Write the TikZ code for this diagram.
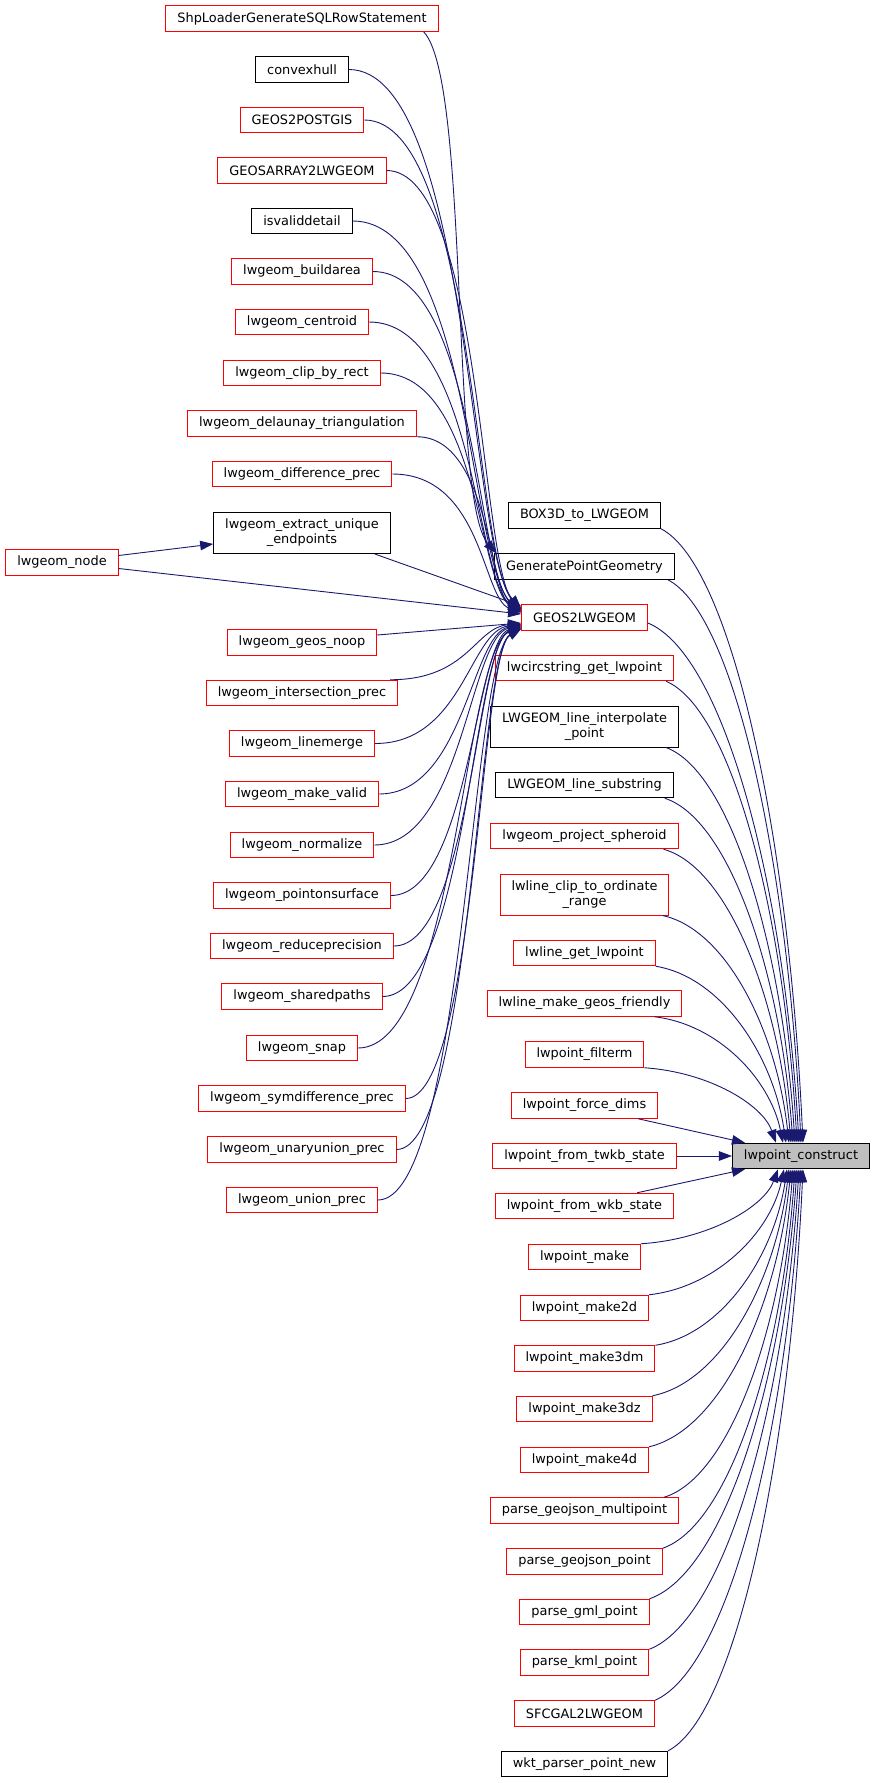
\documentclass[tikz,border=0pt]{standalone}
\usepackage{fontspec}
\setmainfont{DejaVu Sans}
\usetikzlibrary{arrows.meta,calc}
\definecolor{edgecol}{HTML}{191970}
\definecolor{boxgray}{HTML}{BFBFBF}
\tikzset{
 nbox/.style={draw, line width=1pt, fill=white, font=\fontsize{12.9}{15}\selectfont, inner xsep=11.5pt, inner ysep=0pt, minimum height=25.5pt, align=center},
 rbox/.style={nbox, draw=red},
 kbox/.style={nbox, draw=black},
 tall/.style={minimum height=41pt},
 calledge/.style={draw=edgecol, line width=0.9pt, -{Triangle[length=13pt,width=9.5pt]}},
}
\newcommand\cedge[6]{\draw[calledge] let \p1=(#1), \p2=(#2) in (\p1) .. controls ({\x1+#3*(\x2-\x1)},{\y1+#4*(\y2-\y1)}) and ({\x2-#5*(\x2-\x1)},{\y2-#6*(\y2-\y1)}) .. (\p2);}
\newcommand\ledgeU[2]{\cedge{#1}{#2}{0.7}{0}{0.3}{0.1}}
\newcommand\ledgeD[2]{\cedge{#1}{#2}{0.6}{0}{0.35}{0.05}}
\newcommand\redge[2]{\cedge{#1}{#2}{0.5}{0.06}{0.1}{0.5}}
\begin{document}
\begin{tikzpicture}[x=1pt,y=1pt]
\useasboundingbox (0,0) rectangle (875,-1783);
% left column
\node[rbox] (shp) at (302,-18.5) {ShpLoaderGenerateSQLRowStatement};
\node[kbox] (cvx) at (302,-69.5) {convexhull};
\node[rbox] (g2p) at (302,-120) {GEOS2POSTGIS};
\node[rbox] (gar) at (302,-170.5) {GEOSARRAY2LWGEOM};
\node[kbox] (isv) at (302,-221) {isvaliddetail};
\node[rbox] (bld) at (302,-271.5) {lwgeom\_buildarea};
\node[rbox] (cen) at (302,-322) {lwgeom\_centroid};
\node[rbox] (clp) at (302,-373) {lwgeom\_clip\_by\_rect};
\node[rbox] (del) at (302,-423.5) {lwgeom\_delaunay\_triangulation};
\node[rbox] (dif) at (302,-474) {lwgeom\_difference\_prec};
\node[kbox,tall] (ext) at (302,-533) {lwgeom\_extract\_unique\\\_endpoints};
\node[rbox] (nod) at (62,-562.5) {lwgeom\_node};
\node[rbox] (noop) at (302,-642.5) {lwgeom\_geos\_noop};
\node[rbox] (int) at (302,-693) {lwgeom\_intersection\_prec};
\node[rbox] (lm) at (302,-743.5) {lwgeom\_linemerge};
\node[rbox] (mv) at (302,-794) {lwgeom\_make\_valid};
\node[rbox] (nrm) at (302,-845) {lwgeom\_normalize};
\node[rbox] (pos) at (302,-895.5) {lwgeom\_pointonsurface};
\node[rbox] (rp) at (302,-946) {lwgeom\_reduceprecision};
\node[rbox] (sp) at (302,-996.5) {lwgeom\_sharedpaths};
\node[rbox] (snp) at (302,-1048) {lwgeom\_snap};
\node[rbox] (sym) at (302,-1098.5) {lwgeom\_symdifference\_prec};
\node[rbox] (uu) at (302,-1149.5) {lwgeom\_unaryunion\_prec};
\node[rbox] (un) at (302,-1200) {lwgeom\_union\_prec};
% middle column
\node[kbox] (b3d) at (584.5,-515.5) {BOX3D\_to\_LWGEOM};
\node[kbox] (gpg) at (584.5,-566.5) {GeneratePointGeometry};
\node[rbox] (g2l) at (584.5,-617.5) {GEOS2LWGEOM};
\node[rbox] (lcg) at (584.5,-668) {lwcircstring\_get\_lwpoint};
\node[kbox,tall] (lip) at (584.5,-726.5) {LWGEOM\_line\_interpolate\\\_point};
\node[kbox] (lls) at (584.5,-785) {LWGEOM\_line\_substring};
\node[rbox] (lps) at (584.5,-836) {lwgeom\_project\_spheroid};
\node[rbox,tall] (lco) at (584.5,-894.5) {lwline\_clip\_to\_ordinate\\\_range};
\node[rbox] (lgl) at (584.5,-953) {lwline\_get\_lwpoint};
\node[rbox] (lmg) at (584.5,-1003.5) {lwline\_make\_geos\_friendly};
\node[rbox] (pfm) at (584.5,-1054.5) {lwpoint\_filterm};
\node[rbox] (pfd) at (584.5,-1105.5) {lwpoint\_force\_dims};
\node[rbox] (ptw) at (584.5,-1156) {lwpoint\_from\_twkb\_state};
\node[rbox] (pwk) at (584.5,-1206) {lwpoint\_from\_wkb\_state};
\node[rbox] (pm) at (584.5,-1257) {lwpoint\_make};
\node[rbox] (pm2) at (584.5,-1308) {lwpoint\_make2d};
\node[rbox] (pm3m) at (584.5,-1358.5) {lwpoint\_make3dm};
\node[rbox] (pm3z) at (584.5,-1409) {lwpoint\_make3dz};
\node[rbox] (pm4) at (584.5,-1460) {lwpoint\_make4d};
\node[rbox] (pgm) at (584.5,-1510.5) {parse\_geojson\_multipoint};
\node[rbox] (pgp) at (584.5,-1561.5) {parse\_geojson\_point};
\node[rbox] (pgml) at (584.5,-1612) {parse\_gml\_point};
\node[rbox] (pkml) at (584.5,-1662.5) {parse\_kml\_point};
\node[rbox] (sfc) at (584.5,-1713.5) {SFCGAL2LWGEOM};
\node[kbox] (wkt) at (584.5,-1764) {wkt\_parser\_point\_new};
% target
\node[nbox, draw=black, fill=boxgray] (lpc) at (801,-1156) {lwpoint\_construct};
% left edges to GEOS2LWGEOM
\draw[calledge] ($(shp.south east)+(-15,0)$) .. controls (470,-80) and (450,-500) .. ($(gpg.north west)+(2,0)$);
\ledgeU{cvx.east}{$(g2l.west)+(0,9.5)$}
\ledgeU{g2p.east}{$(g2l.west)+(0,8.5)$}
\ledgeU{gar.east}{$(g2l.west)+(0,8)$}
\ledgeU{isv.east}{$(g2l.west)+(0,7.5)$}
\ledgeU{bld.east}{$(g2l.west)+(0,7)$}
\ledgeU{cen.east}{$(g2l.west)+(0,6.5)$}
\ledgeU{clp.east}{$(g2l.west)+(0,6)$}
\ledgeU{del.south east}{$(g2l.west)+(0,5.5)$}
\ledgeU{dif.east}{$(g2l.west)+(0,5)$}
\draw[calledge] ($(ext.south east)+(-16,0)$) -- ($(g2l.west)+(0,11.5)$);
\draw[calledge] ($(nod.east)+(0,7)$) -- ($(ext.west)+(0,-11)$);
\draw[calledge] ($(nod.east)+(0,-6)$) -- ($(g2l.west)+(0,3.5)$);
\draw[calledge] ($(noop.east)+(0,7.5)$) -- ($(g2l.west)+(0,-5.5)$);
\ledgeD{$(int.north east)+(-8,0)$}{$(g2l.west)+(0,-6.5)$}
\ledgeD{lm.east}{$(g2l.west)+(0,-7)$}
\ledgeD{mv.east}{$(g2l.west)+(0,-7.5)$}
\ledgeD{nrm.east}{$(g2l.west)+(0,-8)$}
\ledgeD{pos.east}{$(g2l.west)+(0,-8.5)$}
\ledgeD{rp.east}{$(g2l.west)+(0,-9)$}
\ledgeD{sp.east}{$(g2l.west)+(0,-9.5)$}
\ledgeD{snp.east}{$(g2l.west)+(0,-10)$}
\ledgeD{sym.east}{$(g2l.west)+(0,-10.5)$}
\ledgeD{uu.east}{$(g2l.west)+(0,-11)$}
\ledgeD{un.east}{$(g2l.west)+(0,-11.5)$}
% right edges to lwpoint_construct
\redge{b3d.south east}{$(lpc.north west)+(71,0)$}
\redge{$(gpg.south east)+(-7,0)$}{$(lpc.north west)+(69,0)$}
\redge{$(g2l.east)+(0,-5.5)$}{$(lpc.north west)+(67,0)$}
\redge{$(lcg.south east)+(-8,0)$}{$(lpc.north west)+(65,0)$}
\redge{$(lip.south east)+(-13,0)$}{$(lpc.north west)+(63,0)$}
\redge{$(lls.south east)+(-9,0)$}{$(lpc.north west)+(61,0)$}
\redge{$(lps.south east)+(-15,0)$}{$(lpc.north west)+(59,0)$}
\redge{$(lco.south east)+(-7,0)$}{$(lpc.north west)+(57,0)$}
\redge{lgl.south east}{$(lpc.north west)+(54,0)$}
\redge{$(lmg.south east)+(-28,0)$}{$(lpc.north west)+(51,0)$}
\redge{pfm.south east}{$(lpc.north west)+(44,0)$}
\draw[calledge] ($(pfd.south east)+(-20,0)$) -- ($(lpc.north west)+(13,0)$);
\draw[calledge] (ptw.east) -- (lpc.west);
\draw[calledge] ($(pwk.north east)+(-37,0)$) -- ($(lpc.south west)+(13,0)$);
\redge{pm.north east}{$(lpc.south west)+(46,0)$}
\redge{pm2.north east}{$(lpc.south west)+(52,0)$}
\redge{pm3m.north east}{$(lpc.south west)+(55,0)$}
\redge{pm3z.north east}{$(lpc.south west)+(57,0)$}
\redge{pm4.north east}{$(lpc.south west)+(59,0)$}
\redge{$(pgm.north east)+(-15,0)$}{$(lpc.south west)+(61,0)$}
\redge{pgp.north east}{$(lpc.south west)+(63,0)$}
\redge{pgml.north east}{$(lpc.south west)+(65,0)$}
\redge{pkml.north east}{$(lpc.south west)+(67,0)$}
\redge{sfc.north east}{$(lpc.south west)+(69,0)$}
\redge{wkt.north east}{$(lpc.south west)+(71,0)$}
\end{tikzpicture}
\end{document}
